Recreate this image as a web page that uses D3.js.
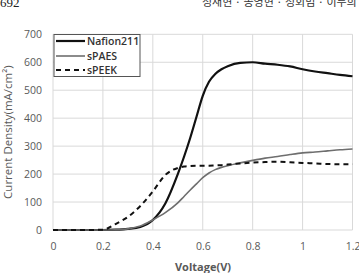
<!DOCTYPE html>
<html><head><meta charset="utf-8">
<script src="https://cdn.jsdelivr.net/npm/d3@7/dist/d3.min.js"></script>
<style>html,body{margin:0;padding:0;background:#fff;}svg{display:block;}</style>
</head><body>
<script>
const voltage = [0,0.1,0.2,0.25,0.3,0.35,0.4,0.45,0.5,0.525,0.55,0.575,0.6,0.625,0.65,0.675,0.7,0.75,0.8,0.85,0.9,0.95,1.0,1.05,1.1,1.15,1.2];
const nafion211 = [0,0,0,1,4,11,36,95,200,262,330,405,480,530,558,575,586,598,600,595,591,585,575,567,561,555,550];
const sPAES = [0,0,0,1,4,14,36,62,97,120,143,165,187,204,216,224,230,240,249,257,263,270,276,279,283,287,290];
const sPEEK = [0,0,1,21,47,86,138,197,222,227,229,230,230,230,231,232,234,238,241,243,244,242,240,238,236,235,235];
const xTicks = [0,0.2,0.4,0.6,0.8,1,1.2];
const yTicks = [0,100,200,300,400,500,600,700];
const seriesNames = ["Nafion211","sPAES","sPEEK"];

const W=359,H=273;
const svg=d3.select("body").append("svg").attr("width",W).attr("height",H);
const x=d3.scaleLinear().domain([0,1.2]).range([53,352.5]);
const y=d3.scaleLinear().domain([0,700]).range([230,34.3]);
const font="'Open Sans', 'Noto Sans', sans-serif";
const txt="#595959";

// header (cut at the top edge as in the source page)
svg.append("text").attr("x",0).attr("y",7).attr("font-family","'Liberation Serif', serif").attr("font-size",13).attr("fill","#222").text("692");
svg.append("text").attr("x",202).attr("y",6).attr("font-family","'Noto Sans CJK KR', sans-serif").attr("font-size",11).attr("fill","#333").text("정재현 · 송영현 · 정회범 · 이두희");

// grid
const g=svg.append("g");
g.selectAll(".gx").data(xTicks).join("line").attr("x1",d=>x(d)).attr("x2",d=>x(d)).attr("y1",y(0)).attr("y2",y(700)).attr("stroke","#d9d9d9").attr("stroke-width",1);
g.selectAll(".gy").data(yTicks).join("line").attr("x1",x(0)).attr("x2",x(1.2)).attr("y1",d=>y(d)).attr("y2",d=>y(d)).attr("stroke","#d9d9d9").attr("stroke-width",1);

// axes labels via d3 axes
const xAxis=svg.append("g").attr("transform",`translate(0,${y(0)})`).call(d3.axisBottom(x).tickValues(xTicks).tickSize(0).tickPadding(13).tickFormat(d=>String(d)));
const yAxis=svg.append("g").attr("transform",`translate(${x(0)},0)`).call(d3.axisLeft(y).tickValues(yTicks).tickSize(0).tickPadding(11));
[xAxis,yAxis].forEach(a=>{a.select(".domain").remove();a.selectAll("text").attr("font-family",font).attr("font-size",10.5).attr("fill",txt);});

// axis titles
svg.append("text").attr("x",203).attr("y",271).attr("text-anchor","middle").attr("font-family",font).attr("font-size",11).attr("font-weight","bold").attr("fill",txt).text("Voltage(V)");
svg.append("text").attr("transform",`translate(12,${(y(0)+y(700))/2}) rotate(-90)`).attr("text-anchor","middle").attr("font-family",font).attr("font-size",11.5).attr("font-weight",500).attr("fill",txt).text("Current Density(mA/cm²)");

// lines
const styles=[{data:nafion211,stroke:"#111",w:2.2,dash:null},{data:sPAES,stroke:"#6e6e6e",w:1.6,dash:null},{data:sPEEK,stroke:"#111",w:2,dash:"5,4"}];
const line=d3.line().x(d=>x(d[0])).y(d=>y(d[1])).curve(d3.curveMonotoneX);
styles.forEach(s=>{
  svg.append("path").datum(voltage.map((v,i)=>[v,s.data[i]])).attr("d",line).attr("fill","none").attr("stroke",s.stroke).attr("stroke-width",s.w).attr("stroke-dasharray",s.dash).attr("stroke-linejoin","round");
});

// legend
const lg=svg.append("g");
lg.append("rect").attr("x",54).attr("y",34.5).attr("width",86).attr("height",42).attr("fill","#fff").attr("stroke","#555").attr("stroke-width",1);
const ly=[41,56,70];
seriesNames.forEach((n,i)=>{
  const s=styles[i];
  lg.append("line").attr("x1",56).attr("x2",85).attr("y1",ly[i]).attr("y2",ly[i]).attr("stroke",s.stroke).attr("stroke-width",s.w).attr("stroke-dasharray",s.dash);
  lg.append("text").attr("x",87).attr("y",ly[i]).attr("dy","0.35em").attr("font-family",font).attr("font-size",10.5).attr("font-weight",600).attr("fill","#333").text(n);
});
</script>
</body></html>
